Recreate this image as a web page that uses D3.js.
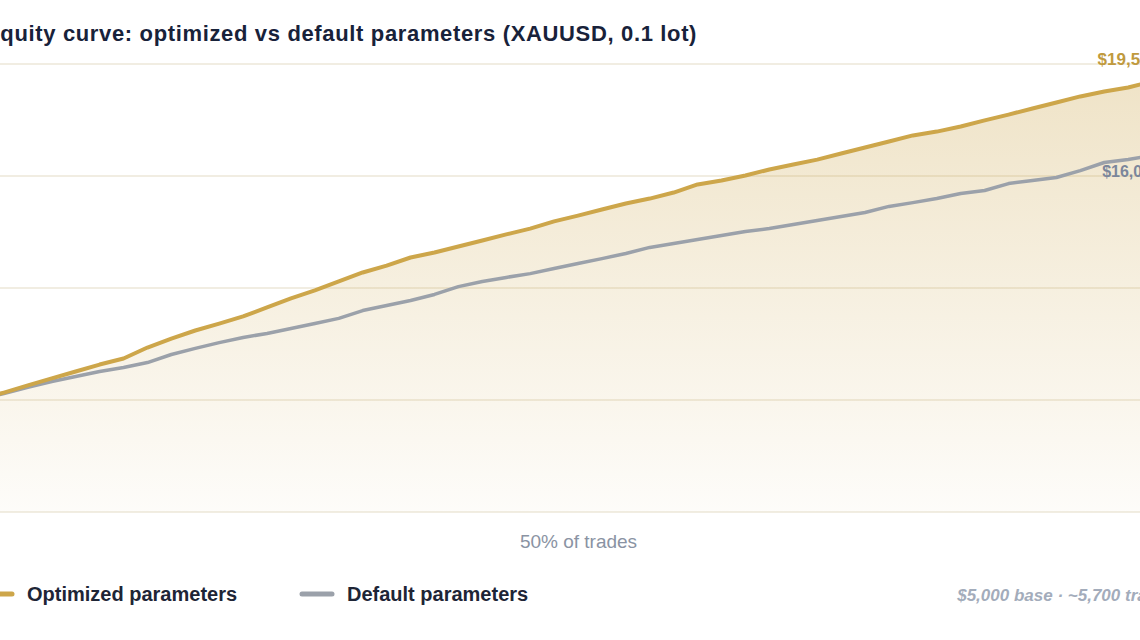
<!DOCTYPE html>
<html lang="en">
<head>
    <script src="https://d3js.org/d3.v7.min.js"></script>
</head>
<style>
    body { margin: 0; background: #ffffff; }
    svg { display: block; font-family: "Liberation Sans", Arial, sans-serif; }
</style>
<body>
        <script>
            // canvas size
            const w = 1140
            const h = 640

            // equity values, one per 2% step of the trade sequence
            const tradePct = d3.range(0, 101, 2)
            const optimized = [5000, 5310, 5630, 5940, 6250, 6560, 6830, 7320, 7720, 8080,
                8390, 8710, 9110, 9510, 9870, 10270, 10670, 10980, 11340, 11560,
                11830, 12100, 12370, 12630, 12950, 13210, 13480, 13750, 13970, 14240,
                14600, 14780, 15000, 15270, 15490, 15710, 15980, 16250, 16520, 16790,
                16960, 17190, 17460, 17720, 17990, 18260, 18530, 18750, 18930, 19200, 19540]
            const defaults = [5000, 5270, 5540, 5800, 6030, 6250, 6430, 6650, 7010, 7280,
                7540, 7770, 7950, 8170, 8390, 8620, 8970, 9200, 9420, 9690,
                10040, 10270, 10450, 10620, 10850, 11070, 11290, 11520, 11790, 11960,
                12140, 12320, 12500, 12630, 12810, 12990, 13170, 13350, 13620, 13790,
                13970, 14200, 14330, 14640, 14780, 14910, 15220, 15580, 15710, 15890, 16060]

            const yTicks = [0, 5000, 10000, 15000, 20000]
            const xTicks = [50]
            const xTickLabels = ["50% of trades"]
            const seriesNames = ["Optimized parameters", "Default parameters"]
            const titleText = "Equity curve: optimized vs default parameters (XAUUSD, 0.1 lot)"
            const noteText = "$5,000 base \u00b7 ~5,700 trades"

            const gold = "#cda64a"
            const grey = "#9ba1aa"

            // plot box (the chart is wider than the window, so it spills past both edges)
            const plotL = -20, plotR = 1176, plotT = 63.5, plotB = 511.5

            let svg = d3.select("body")
                .append("svg")
                .attr("width", w)
                .attr("height", h)

            let xScale = d3.scaleLinear().domain([0, 100]).range([plotL, plotR])
            let yScale = d3.scaleLinear().domain([0, 20000]).range([plotB, plotT])

            let optData = tradePct.map((p, i) => ({p: p, v: optimized[i]}))
            let defData = tradePct.map((p, i) => ({p: p, v: defaults[i]}))

            // gradient for the area under the optimized curve
            let grad = svg.append("defs").append("linearGradient")
                .attr("id", "goldFade")
                .attr("gradientUnits", "userSpaceOnUse")
                .attr("x1", 0).attr("x2", 0)
                .attr("y1", plotT).attr("y2", plotB)
            grad.append("stop").attr("offset", "0%").attr("stop-color", "#c9a040").attr("stop-opacity", 0.30)
            grad.append("stop").attr("offset", "100%").attr("stop-color", "#c9a040").attr("stop-opacity", 0.03)

            // gridlines only; the value labels lie outside the visible window
            let yaxis = d3.axisLeft(yScale)
                .tickValues(yTicks)
                .tickSize(-(w + 200))
                .tickFormat("")
            svg.append("g")
                .attr("class", "axis")
                .attr("transform", "translate(" + (plotL - 60) + ",0)")
                .call(yaxis)
                .call(g => g.select(".domain").remove())
                .call(g => g.selectAll("text").remove())
                .call(g => g.selectAll("line").attr("stroke", "#ede7d8").attr("stroke-width", 1.5))

            // area under optimized
            let area = d3.area()
                .x(d => xScale(d.p))
                .y0(yScale(0))
                .y1(d => yScale(d.v))
            svg.append("path")
                .datum(optData)
                .attr("d", area)
                .attr("fill", "url(#goldFade)")

            let line = d3.line()
                .x(d => xScale(d.p))
                .y(d => yScale(d.v))

            svg.append("path")
                .datum(defData)
                .attr("d", line)
                .attr("fill", "none")
                .attr("stroke", grey)
                .attr("stroke-width", 3.5)
                .attr("stroke-linejoin", "round")

            svg.append("path")
                .datum(optData)
                .attr("d", line)
                .attr("fill", "none")
                .attr("stroke", gold)
                .attr("stroke-width", 4)
                .attr("stroke-linejoin", "round")

            // x axis: only the midpoint label
            let xaxis = d3.axisBottom(xScale)
                .tickValues(xTicks)
                .tickSize(0)
                .tickPadding(0)
                .tickFormat((d, i) => xTickLabels[i])
            svg.append("g")
                .attr("transform", "translate(0," + (plotB + 23) + ")")
                .call(xaxis)
                .call(g => g.select(".domain").remove())
                .call(g => g.selectAll("text")
                    .attr("fill", "#8a93a3")
                    .attr("font-size", 19)
                    .attr("font-family", "Liberation Sans, Arial, sans-serif"))

            // end labels
            let last = optimized.length - 1
            svg.append("text")
                .attr("x", xScale(100) - 17)
                .attr("y", yScale(optimized[last]) - 9)
                .attr("text-anchor", "end")
                .attr("font-size", 17)
                .attr("font-weight", "bold")
                .attr("fill", "#c09a3e")
                .text("$" + d3.format(",")(optimized[last]))
            svg.append("text")
                .attr("x", xScale(100) - 16)
                .attr("y", yScale(defaults[last]) + 25)
                .attr("text-anchor", "end")
                .attr("font-size", 16)
                .attr("font-weight", "bold")
                .attr("fill", "#7b869b")
                .text("$" + d3.format(",")(defaults[last]))

            // title
            svg.append("text")
                .attr("x", -15)
                .attr("y", 41)
                .attr("font-size", 22)
                .attr("font-weight", "bold")
                .attr("letter-spacing", 0.65)
                .attr("fill", "#18223a")
                .text(titleText)

            // legend
            let legend = svg.append("g")
                .attr("transform", "translate(" + plotL + ",594)")
            let items = legend.selectAll("g")
                .data(seriesNames)
                .enter()
                .append("g")
                .attr("transform", (d, i) => "translate(" + (i * 320) + ",0)")
            items.append("line")
                .attr("x1", 2).attr("x2", 32)
                .attr("y1", 0).attr("y2", 0)
                .attr("stroke", (d, i) => i == 0 ? gold : grey)
                .attr("stroke-width", 5)
                .attr("stroke-linecap", "round")
            items.append("text")
                .attr("x", 47)
                .attr("y", 7)
                .attr("font-size", 20)
                .attr("font-weight", "bold")
                .attr("fill", "#1e2536")
                .text(d => d)

            svg.append("text")
                .attr("x", plotR)
                .attr("y", 601)
                .attr("text-anchor", "end")
                .attr("font-size", 17)
                .attr("font-weight", "bold")
                .attr("font-style", "italic")
                .attr("fill", "#a3acbb")
                .text(noteText)
        </script>
    </body>
</html>
